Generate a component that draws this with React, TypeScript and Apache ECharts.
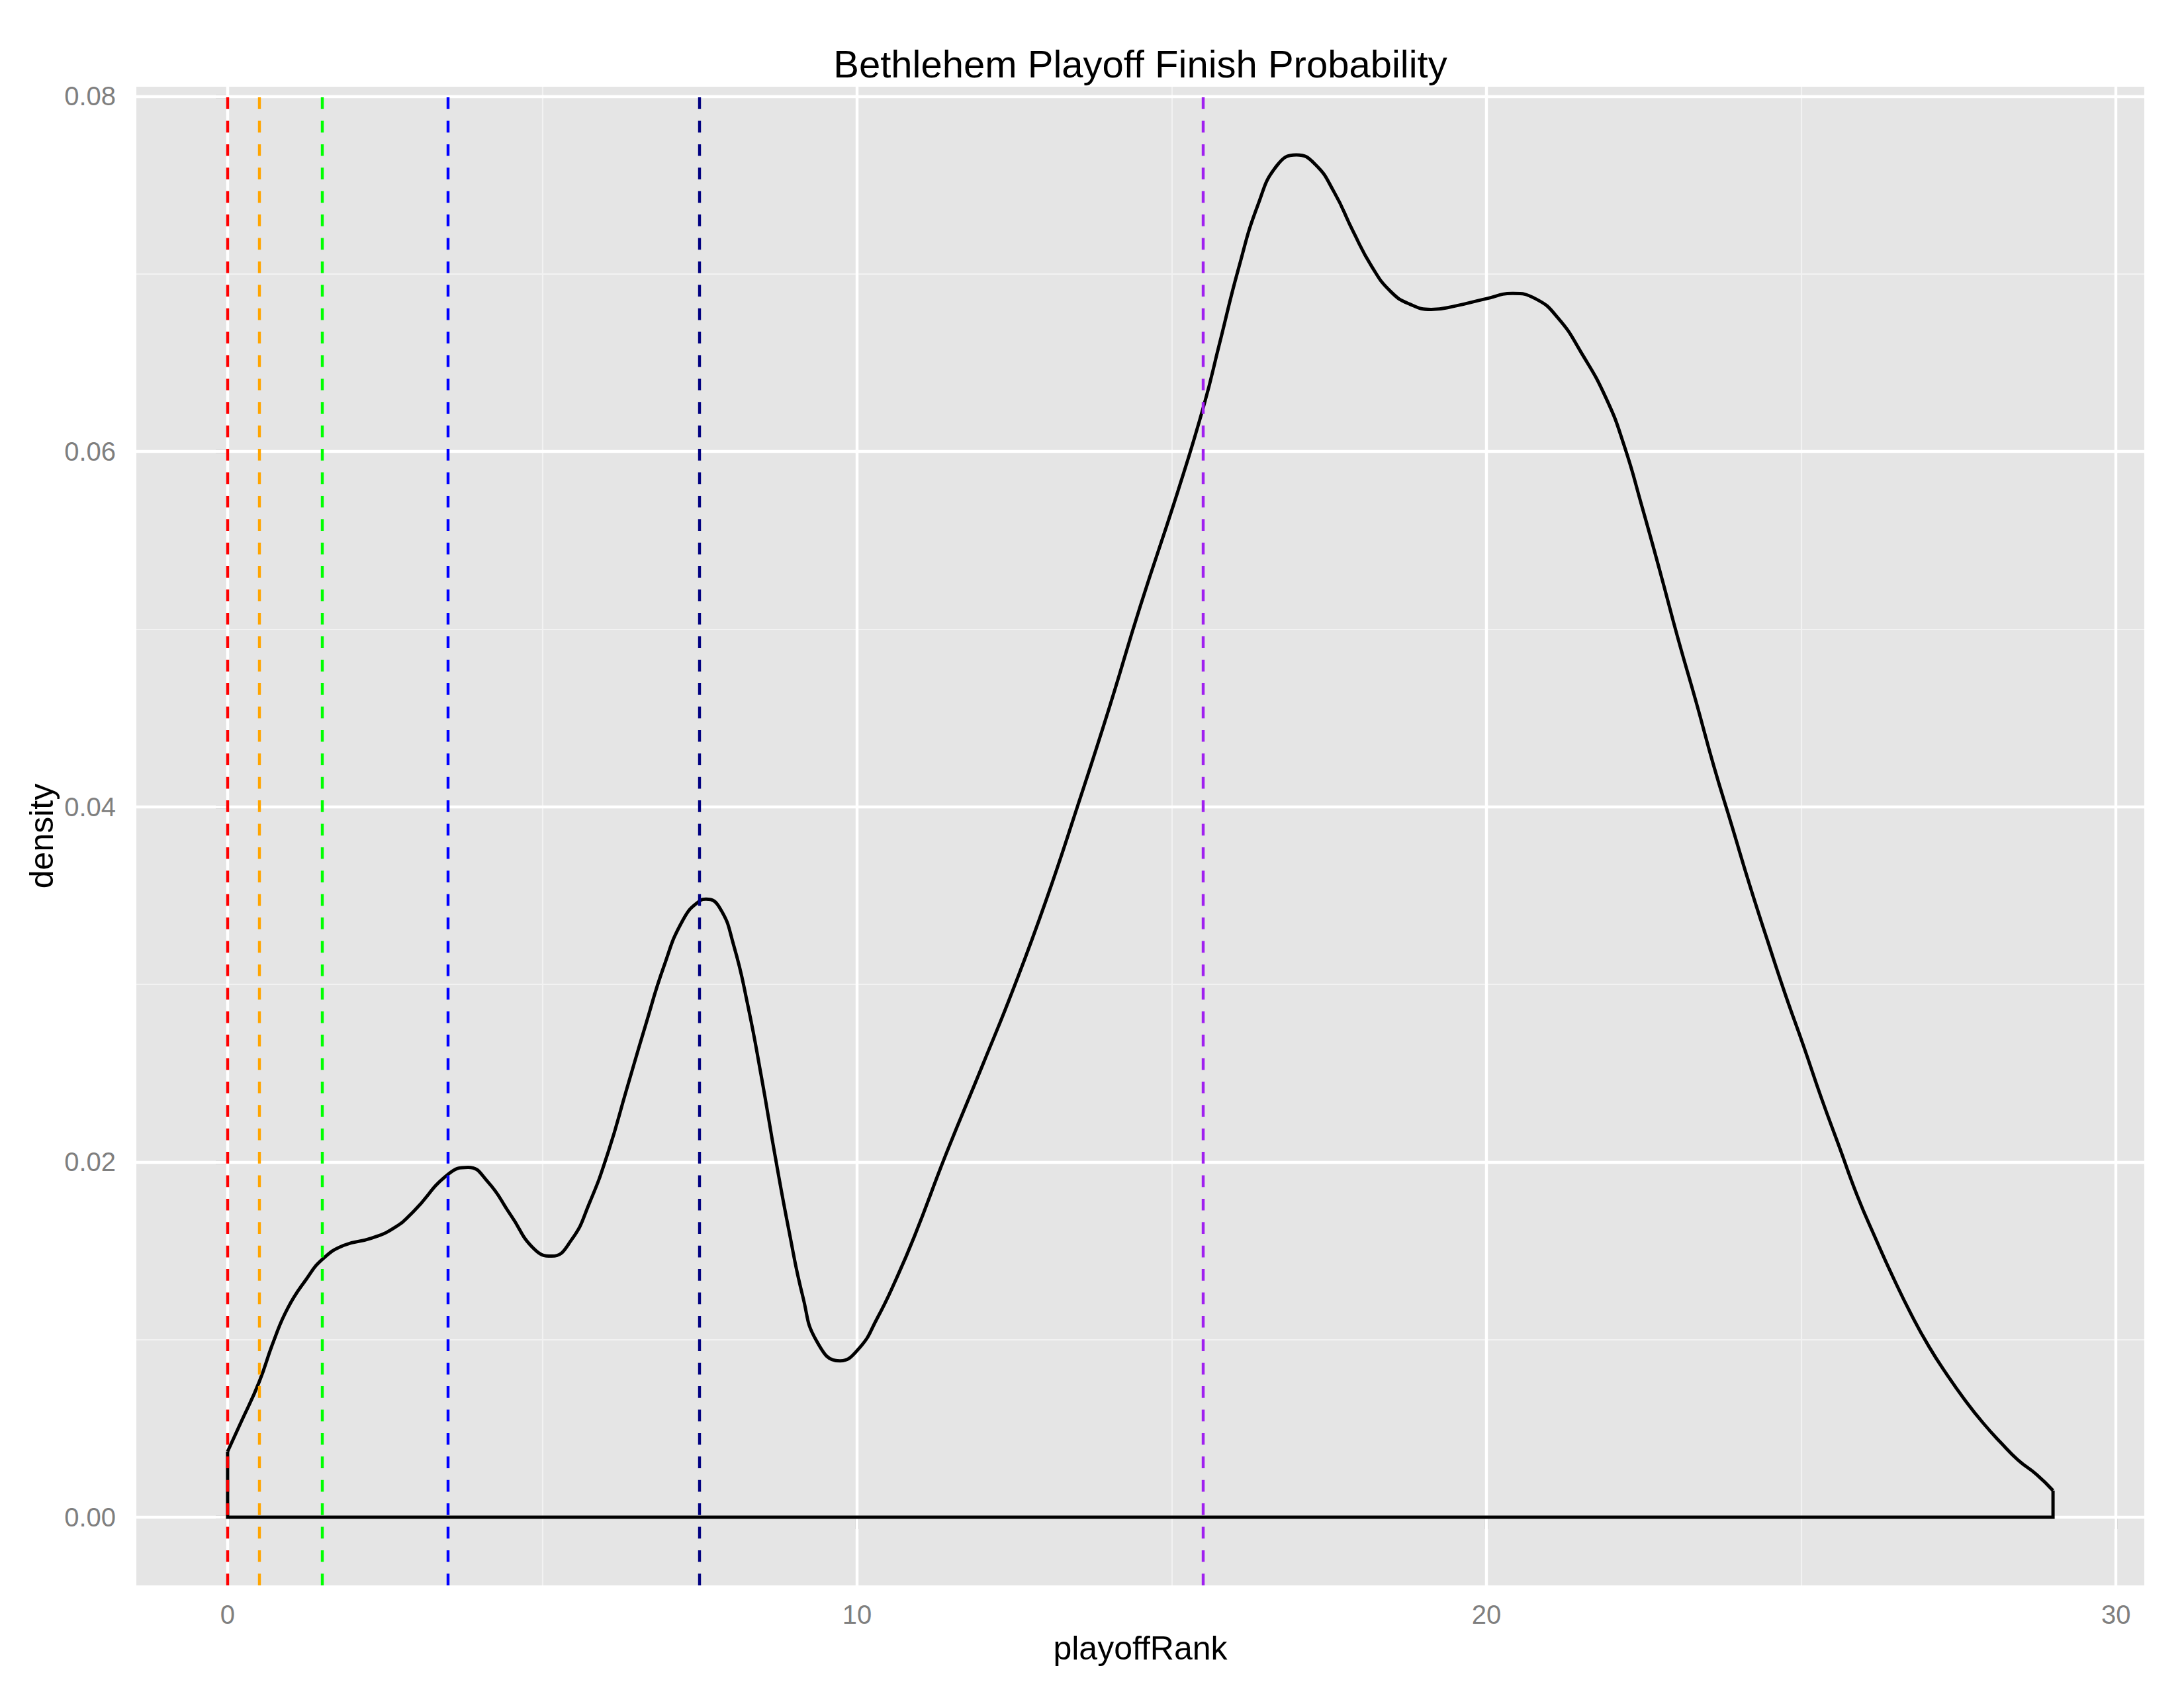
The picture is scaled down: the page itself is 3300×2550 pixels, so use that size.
import React, { useEffect, useRef } from "react";
import * as echarts from "echarts";

// ---- data ----
const rankX = [
  0, 0.22, 0.5, 0.73, 0.96, 1.25, 1.5, 1.84, 2.28, 2.65, 2.95, 3.5, 3.82, 4.13, 4.5, 4.87,
  5.15, 5.46, 5.75, 6.05, 6.34, 6.64, 6.93, 7.23, 7.5, 7.6, 7.82, 8.04, 8.26, 8.48, 8.7,
  8.92, 9.14, 9.36, 9.72, 10.03, 10.32, 10.62, 10.91, 11.42, 12, 12.5, 13, 13.5, 14, 14.5,
  15.1, 15.51, 15.76, 16.06, 16.37, 16.67, 16.98, 17.27, 17.58, 17.88, 18.18, 18.48, 18.78,
  19.12, 19.51, 19.99, 20.41, 20.78, 21.14, 21.5, 21.9, 22.19, 22.47, 22.76, 23.04, 23.33,
  23.61, 23.9, 24.18, 24.47, 24.75, 25.04, 25.32, 25.61, 25.89, 26.18, 26.46, 26.75, 27.03,
  27.32, 27.6, 27.89, 28.17, 28.45, 28.74, 29,
];
const densityY = [
  0.0037, 0.0054, 0.0076, 0.0099, 0.0118, 0.0134, 0.0145, 0.0153, 0.0157, 0.0163, 0.0172,
  0.0193, 0.0197, 0.0189, 0.017, 0.0151, 0.0147, 0.0156, 0.0177, 0.0206, 0.0241, 0.0277,
  0.031, 0.0336, 0.0347, 0.0348, 0.0343, 0.0322, 0.0289, 0.0248, 0.0203, 0.0161, 0.0124,
  0.0099, 0.0088, 0.0095, 0.0112, 0.0134, 0.0158, 0.0205, 0.0255, 0.0299, 0.0347, 0.04,
  0.0455, 0.0513, 0.0578, 0.0626, 0.0661, 0.0703, 0.0739, 0.0761, 0.0767, 0.0762, 0.0746,
  0.0724, 0.0704, 0.069, 0.0683, 0.068, 0.0682, 0.0686, 0.0689, 0.0686, 0.0675, 0.0656,
  0.063, 0.0603, 0.0569, 0.0532, 0.0495, 0.0459, 0.0423, 0.0389, 0.0356, 0.0324, 0.0294,
  0.0265, 0.0236, 0.0208, 0.0181, 0.0157, 0.0135, 0.0114, 0.0096, 0.008, 0.0066, 0.0053,
  0.0042, 0.0032, 0.0024, 0.0015,
];
const vlineX = [0, 0.5, 1.5, 3.5, 7.5, 15.5];
const vlineColors = ["#FF0000", "#FFA500", "#00FF00", "#0000FF", "#000080", "#A020F0"];
const xMajorTicks = [0, 10, 20, 30];
const xMinorTicks = [5, 15, 25];
const yMajorTicks = [0, 0.02, 0.04, 0.06, 0.08];
const yMinorTicks = [0.01, 0.03, 0.05, 0.07];
const titleText = "Bethlehem Playoff Finish Probability";
const xTitle = "playoffRank";
const yTitle = "density";

const X_MIN = -1.45;
const X_MAX = 30.45;
const Y_MIN = -0.00384;
const Y_MAX = 0.08054;

const FONT = '"Liberation Sans", Arial, Helvetica, sans-serif';
const W = 3300;
const H = 2550;
const GRID = { left: 206, top: 131, right: 60, bottom: 155 };

export default function App() {
  const ref = useRef<HTMLDivElement>(null);

  useEffect(() => {
    if (!ref.current) return;
    const chart = echarts.init(ref.current, null, { renderer: "svg" });

    const curve = rankX.map((x, i) => [x, densityY[i]]);
    const last = rankX.length - 1;
    const closing = [
      [rankX[0], densityY[0]],
      [rankX[0], 0],
      [rankX[last], 0],
      [rankX[last], densityY[last]],
    ];
    const cx = GRID.left + (W - GRID.left - GRID.right) / 2;
    const cy = GRID.top + (H - GRID.top - GRID.bottom) / 2;

    const gridLineSeries = (values: any[], color: string, width: number, z: number) => ({
      type: "line",
      data: [],
      silent: true,
      z,
      markLine: {
        silent: true,
        z,
        symbol: ["none", "none"],
        label: { show: false },
        emphasis: { disabled: true },
        animation: false,
        lineStyle: { color, width, type: "solid" },
        data: values,
      },
    });

    const option: any = {
      animation: false,
      backgroundColor: "#FFFFFF",
      grid: {
        left: GRID.left,
        top: GRID.top,
        right: GRID.right,
        bottom: GRID.bottom,
        show: true,
        backgroundColor: "#E5E5E5",
        borderWidth: 0,
        containLabel: false,
      },
      xAxis: {
        type: "value",
        min: X_MIN,
        max: X_MAX,
        axisLine: { show: false },
        splitLine: { show: false },
        axisTick: {
          show: true,
          customValues: xMajorTicks,
          length: 18,
          inside: false,
          lineStyle: { color: "#7F7F7F", width: 4.4 },
        },
        axisLabel: {
          customValues: xMajorTicks,
          color: "#7F7F7F",
          fontSize: 40,
          fontFamily: FONT,
          margin: 24,
          formatter: (v: number) => String(v),
        },
      },
      yAxis: {
        type: "value",
        min: Y_MIN,
        max: Y_MAX,
        axisLine: { show: false },
        splitLine: { show: false },
        axisTick: {
          show: true,
          customValues: yMajorTicks,
          length: 18,
          inside: false,
          lineStyle: { color: "#7F7F7F", width: 4.4 },
        },
        axisLabel: {
          customValues: yMajorTicks,
          color: "#7F7F7F",
          fontSize: 40,
          fontFamily: FONT,
          margin: 31,
          formatter: (v: number) => v.toFixed(2),
        },
      },
      graphic: [
        {
          type: "text",
          x: cx,
          y: 96,
          style: {
            text: titleText,
            fontSize: 58,
            fontFamily: FONT,
            fill: "#000000",
            align: "center",
            verticalAlign: "middle",
          },
        },
        {
          type: "text",
          x: cx,
          y: 2490,
          style: {
            text: xTitle,
            fontSize: 50,
            fontFamily: FONT,
            fill: "#000000",
            align: "center",
            verticalAlign: "middle",
          },
        },
        {
          type: "text",
          x: 63,
          y: cy,
          rotation: Math.PI / 2,
          style: {
            text: yTitle,
            fontSize: 50,
            fontFamily: FONT,
            fill: "#000000",
            align: "center",
            verticalAlign: "middle",
          },
        },
      ],
      series: [
        gridLineSeries(
          [...xMinorTicks.map((v) => ({ xAxis: v })), ...yMinorTicks.map((v) => ({ yAxis: v }))],
          "#F2F2F2",
          2.2,
          1
        ),
        gridLineSeries(
          [...xMajorTicks.map((v) => ({ xAxis: v })), ...yMajorTicks.map((v) => ({ yAxis: v }))],
          "#FFFFFF",
          4.4,
          2
        ),
        {
          type: "line",
          data: curve,
          showSymbol: false,
          symbol: "none",
          smooth: 0.5,
          silent: true,
          z: 3,
          lineStyle: { color: "#000000", width: 5, join: "round" },
        },
        {
          type: "line",
          data: closing,
          showSymbol: false,
          symbol: "none",
          smooth: false,
          silent: true,
          z: 3,
          lineStyle: { color: "#000000", width: 5, join: "miter" },
        },
        {
          type: "line",
          data: [],
          silent: true,
          z: 4,
          markLine: {
            silent: true,
            z: 4,
            symbol: ["none", "none"],
            label: { show: false },
            emphasis: { disabled: true },
            animation: false,
            data: vlineX.map((v, i) => ({
              xAxis: v,
              lineStyle: { color: vlineColors[i], width: 4.4, type: [17.7, 17.7] },
            })),
          },
        },
      ],
    };

    chart.setOption(option);
    return () => chart.dispose();
  }, []);

  return (
    <div
      ref={ref}
      style={{ position: "absolute", left: 0, top: 0, width: W, height: H, background: "#FFFFFF" }}
    />
  );
}
